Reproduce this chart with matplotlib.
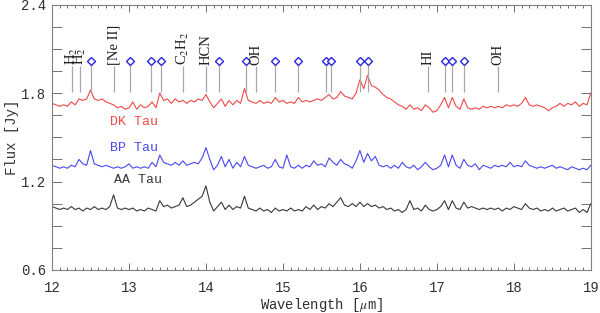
import numpy as np
import matplotlib
matplotlib.use('Agg')
import matplotlib.pyplot as plt
from matplotlib.ticker import MultipleLocator

plt.rcParams['mathtext.fontset'] = 'stix'

# wavelength grid (micron), 0.05 step
wave = np.arange(141) * 0.05 + 12.0

dk_tau = [1.73, 1.72, 1.71, 1.72, 1.71, 1.74, 1.72, 1.76, 1.75, 1.76,
          1.82, 1.76, 1.75, 1.76, 1.74, 1.73, 1.72, 1.70, 1.71, 1.69,
          1.70, 1.74, 1.69, 1.72, 1.70, 1.71, 1.74, 1.70, 1.80, 1.75,
          1.76, 1.73, 1.76, 1.74, 1.75, 1.73, 1.75, 1.74, 1.76, 1.75,
          1.79, 1.74, 1.70, 1.73, 1.76, 1.71, 1.75, 1.72, 1.75, 1.73,
          1.83, 1.75, 1.74, 1.73, 1.75, 1.73, 1.74, 1.73, 1.77, 1.74,
          1.75, 1.73, 1.74, 1.73, 1.77, 1.74, 1.75, 1.74, 1.75, 1.76,
          1.75, 1.77, 1.79, 1.76, 1.77, 1.81, 1.78, 1.77, 1.76, 1.80,
          1.89, 1.83, 1.92, 1.85, 1.84, 1.82, 1.79, 1.77, 1.76, 1.74,
          1.72, 1.71, 1.69, 1.72, 1.69, 1.70, 1.68, 1.72, 1.70, 1.67,
          1.68, 1.72, 1.77, 1.70, 1.77, 1.71, 1.69, 1.76, 1.70, 1.69,
          1.70, 1.69, 1.71, 1.70, 1.71, 1.70, 1.71, 1.70, 1.72, 1.71,
          1.72, 1.71, 1.73, 1.77, 1.72, 1.71, 1.72, 1.71, 1.70, 1.68,
          1.70, 1.71, 1.73, 1.71, 1.73, 1.72, 1.74, 1.71, 1.73, 1.72,
          1.80]

bp_tau = [1.31, 1.30, 1.29, 1.30, 1.29, 1.31, 1.30, 1.35, 1.32, 1.31,
          1.41, 1.32, 1.31, 1.30, 1.31, 1.30, 1.29, 1.30, 1.29, 1.30,
          1.32, 1.29, 1.30, 1.29, 1.30, 1.29, 1.33, 1.30, 1.38, 1.33,
          1.32, 1.31, 1.33, 1.31, 1.34, 1.31, 1.32, 1.33, 1.32, 1.36,
          1.43, 1.35, 1.28, 1.31, 1.37, 1.30, 1.35, 1.29, 1.33, 1.30,
          1.37, 1.31, 1.30, 1.29, 1.30, 1.31, 1.29, 1.30, 1.35, 1.30,
          1.29, 1.38, 1.30, 1.29, 1.31, 1.29, 1.31, 1.30, 1.34, 1.31,
          1.32, 1.30, 1.36, 1.33, 1.31, 1.35, 1.32, 1.31, 1.29, 1.34,
          1.41, 1.33, 1.39, 1.34, 1.37, 1.31, 1.30, 1.31, 1.29, 1.31,
          1.29, 1.33, 1.30, 1.29, 1.31, 1.28, 1.30, 1.33, 1.30, 1.28,
          1.29, 1.31, 1.38, 1.30, 1.38, 1.31, 1.29, 1.35, 1.31, 1.30,
          1.32, 1.28, 1.31, 1.30, 1.29, 1.31, 1.30, 1.31, 1.30, 1.33,
          1.30, 1.31, 1.30, 1.34, 1.31, 1.30, 1.29, 1.30, 1.29, 1.30,
          1.31, 1.29, 1.30, 1.29, 1.28, 1.30, 1.29, 1.28, 1.29, 1.28,
          1.31]

aa_tau = [1.03, 1.02, 1.01, 1.02, 1.01, 1.03, 1.01, 1.02, 1.00, 1.02,
          1.01, 1.03, 1.01, 1.02, 1.01, 1.03, 1.11, 1.02, 1.01, 1.02,
          1.01, 1.02, 1.00, 1.01, 1.00, 1.02, 1.01, 1.00, 1.07, 1.03,
          1.04, 1.02, 1.03, 1.04, 1.09, 1.03, 1.04, 1.06, 1.08, 1.10,
          1.17, 1.06, 1.00, 1.03, 1.06, 1.01, 1.04, 1.01, 1.03, 1.02,
          1.10, 1.02, 1.01, 1.00, 1.02, 1.00, 1.01, 0.99, 1.02, 1.00,
          1.01, 1.00, 1.02, 1.00, 1.01, 1.00, 1.03, 1.01, 1.04, 1.01,
          1.03, 1.02, 1.05, 1.03, 1.06, 1.09, 1.04, 1.03, 1.05, 1.03,
          1.06, 1.03, 1.05, 1.03, 1.04, 1.02, 1.03, 1.01, 1.02, 1.00,
          1.01, 0.99, 1.01, 1.07, 1.01, 1.02, 1.00, 1.04, 1.01, 1.00,
          1.01, 1.03, 1.07, 1.01, 1.07, 1.02, 1.01, 1.06, 1.02, 1.03,
          1.02, 1.01, 1.02, 1.01, 1.02, 1.01, 1.02, 1.00, 1.02, 1.01,
          1.03, 1.02, 1.01, 1.05, 1.02, 1.01, 1.02, 1.00, 1.01, 1.00,
          1.02, 1.00, 1.01, 1.02, 1.00, 1.01, 1.02, 0.99, 1.01, 0.99,
          1.05]

# H2O lines marked with diamonds
h2o_lines = [12.51, 13.01, 13.29, 13.41, 14.17, 14.52, 14.90, 15.19,
             15.56, 15.63, 16.00, 16.11, 17.10, 17.20, 17.35]

# labelled lines
line_pos = [12.26, 12.36, 12.81, 13.70, 14.00, 14.65, 16.88, 17.79]
line_names = [r'H$_2$', r'H$_2$', '[Ne II]', r'C$_2$H$_2$', 'HCN', 'OH', 'HI', 'OH']

red = '#f04848'
blue = '#4848f0'
black = '#383838'
grey = '#a8a8a8'

fig = plt.figure(figsize=(6, 3.13), dpi=100)
ax = fig.add_axes([0.0867, 0.1374, 0.898, 0.848])

ax.plot(wave, dk_tau, color=red, lw=0.8)
ax.plot(wave, bp_tau, color=blue, lw=0.8)
ax.plot(wave, aa_tau, color=black, lw=0.8)

# marker lines
ax.vlines(h2o_lines, 1.805, 2.0, color=grey, lw=0.9)
ax.plot(h2o_lines, [2.02] * len(h2o_lines), 'D', ms=4, mfc='white',
        mec='#2828e0', mew=1.0)
ax.vlines(line_pos, 1.805, 1.985, color=grey, lw=0.9)
for x, name in zip(line_pos, line_names):
    ax.text(x, 1.993, name, rotation=90, ha='center', va='bottom',
            family='Liberation Serif', fontsize=10.5, color='#202020')

mono = 'Liberation Mono'
ax.text(13.06, 1.605, 'DK Tau', color=red, ha='center', va='center', family=mono, fontsize=9.5)
ax.text(13.06, 1.43, 'BP Tau', color=blue, ha='center', va='center', family=mono, fontsize=9.5)
ax.text(13.12, 1.21, 'AA Tau', color=black, ha='center', va='center', family=mono, fontsize=9.5)

ax.set_xlim(12, 19)
ax.set_ylim(0.6, 2.4)
ax.xaxis.set_major_locator(MultipleLocator(1))
ax.xaxis.set_minor_locator(MultipleLocator(0.1))
ax.yaxis.set_major_locator(MultipleLocator(0.6))
ax.yaxis.set_minor_locator(MultipleLocator(0.15))
ax.tick_params(which='both', direction='in', top=True, right=True, colors='#707070',
               labelcolor='#303030', width=0.7)
ax.tick_params(axis='x', which='major', length=5, pad=8)
ax.tick_params(axis='x', which='minor', length=2.5)
ax.tick_params(axis='y', which='major', length=7, pad=4)
ax.tick_params(axis='y', which='minor', length=7)
for lab in ax.get_xticklabels() + ax.get_yticklabels():
    lab.set_family(mono)
    lab.set_fontsize(10)
for s in ax.spines.values():
    s.set_color('#808080')
    s.set_linewidth(0.8)

ax.set_xlabel(r'Wavelength [$\mu$m]', family=mono, fontsize=10, color='#303030', labelpad=1)
ax.set_ylabel('Flux [Jy]', family=mono, fontsize=10, color='#303030', labelpad=2)

fig.savefig('out.png', dpi=100)
